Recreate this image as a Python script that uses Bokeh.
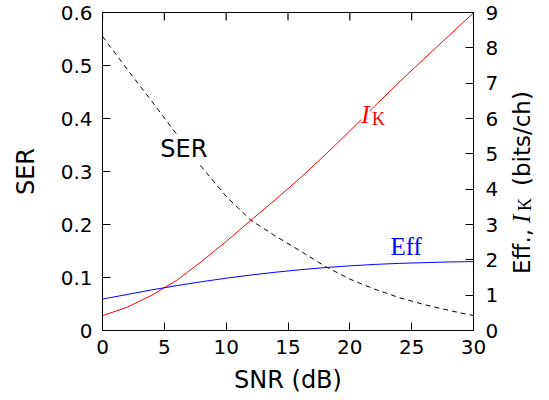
import math
from bokeh.plotting import figure
from bokeh.layouts import row
from bokeh.models import Range1d, LinearAxis, FixedTicker, Label, CustomJSTickFormatter
from bokeh.embed import file_html
from bokeh.resources import INLINE

# ---- data ----
snr = [0, 2, 4, 6, 8, 10, 12, 14, 16, 18, 20, 22, 24, 26, 28, 30]
ser = [0.555, 0.493, 0.432, 0.370, 0.309, 0.253, 0.208, 0.178, 0.150, 0.121,
       0.097, 0.078, 0.062, 0.049, 0.038, 0.028]
ik = [0.42, 0.66, 1.00, 1.42, 1.95, 2.52, 3.12, 3.71, 4.32, 4.97, 5.65, 6.35,
      7.03, 7.69, 8.34, 8.99]
eff = [0.89, 1.02, 1.15, 1.27, 1.38, 1.48, 1.57, 1.65, 1.72, 1.78, 1.83, 1.87,
       1.90, 1.92, 1.94, 1.95]

x_ticks = [0, 5, 10, 15, 20, 25, 30]
ser_ticks = [0, 0.1, 0.2, 0.3, 0.4, 0.5, 0.6]
right_ticks = [0, 1, 2, 3, 4, 5, 6, 7, 8, 9]

SANS = "DejaVu Sans"
SERIF = "Liberation Serif"

right_range = Range1d(0, 9)

p = figure(width=505, height=400,
           x_range=Range1d(0, 30), y_range=Range1d(0, 0.6),
           output_backend="svg", toolbar_location=None,
           min_border_left=102, min_border_right=32,
           min_border_top=12, min_border_bottom=70,
           x_axis_label="SNR (dB)", y_axis_label="SER")
p.extra_y_ranges = {"right": right_range}
p.grid.visible = False
p.outline_line_color = "black"
p.outline_line_width = 1
p.background_fill_color = "white"
p.border_fill_color = "white"

p.line(snr, ser, line_color="black", line_width=1, line_dash="5 4")
p.line(snr, ik, line_color="#ff0000", line_width=1, y_range_name="right")
p.line(snr, eff, line_color="#0000ff", line_width=1, y_range_name="right")

# inward ticks on the top edge of the frame
p.ray(x=x_ticks, y=[ser_ticks[-1]] * len(x_ticks), length=8,
      length_units="screen", angle=-math.pi / 2,
      line_color="black", line_width=1.2)

right_axis = LinearAxis(y_range_name="right")
p.add_layout(right_axis, "right")
bottom_axis = p.below[0]
left_axis = p.left[0]


def style(ax, ticks, standoff):
    ax.ticker = FixedTicker(ticks=ticks)
    ax.major_tick_in = 8
    ax.major_tick_out = 0
    ax.minor_tick_line_color = None
    ax.major_tick_line_color = "black"
    ax.axis_line_color = "black"
    ax.major_label_text_font = SANS
    ax.major_label_text_font_size = "20px"
    ax.major_label_text_color = "black"
    ax.major_label_standoff = standoff
    ax.axis_label_text_font = SANS
    ax.axis_label_text_font_size = "24px"
    ax.axis_label_text_font_style = "normal"
    ax.axis_label_text_color = "black"


style(bottom_axis, x_ticks, 9)
style(left_axis, ser_ticks, 10)
style(right_axis, right_ticks, 12)
left_axis.formatter = CustomJSTickFormatter(
    code="return tick == 0 ? '0' : tick.toFixed(1);")
bottom_axis.axis_label_standoff = 9
left_axis.axis_label_standoff = 18

# in-plot labels
p.add_layout(Label(x=4.67, y=0.342, text="SER", text_font=SANS,
                   text_font_size="24px", text_color="black",
                   text_baseline="alphabetic", text_align="left",
                   background_fill_color="white"))
p.add_layout(Label(x=20.93, y=6.11, y_range_name="right", text="I",
                   text_font=SERIF, text_font_style="italic",
                   text_font_size="25px", text_color="#ff0000",
                   text_baseline="alphabetic", text_align="left",
                   background_fill_color="white"))
p.add_layout(Label(x=21.8, y=6.0, y_range_name="right", text="K",
                   text_font=SERIF, text_font_size="18px",
                   text_color="#ff0000",
                   text_baseline="alphabetic", text_align="left",
                   background_fill_color="white"))
p.add_layout(Label(x=23.28, y=2.38, y_range_name="right", text="Eff",
                   text_font=SERIF, text_font_size="25px",
                   text_color="#0000ff",
                   text_baseline="alphabetic", text_align="left"))

# right axis title, in a narrow strip to the right; its vertical range is
# the right axis range, so its frame lines up with the main plot's frame
p2 = figure(width=44, height=400, x_range=Range1d(0, 44),
            y_range=right_range, output_backend="svg",
            toolbar_location=None, x_axis_location=None,
            y_axis_location=None, min_border=0)
p2.outline_line_color = None
p2.background_fill_color = "white"
p2.border_fill_color = "white"
p2.xgrid.visible = False
p2.ygrid.visible = False

bx = 16
pieces = [
    ("Eff.,", SANS, "normal", "23px", bx, 1.60),
    ("I", SERIF, "italic", "25px", bx, 3.04),
    ("K", SERIF, "normal", "18px", bx + 3.7, 3.38),
    ("(bits/ch)", SANS, "normal", "23px", bx, 4.09),
]
for t, f, st, sz, xx, yy in pieces:
    p2.add_layout(Label(x=xx, y=yy, text=t, text_font=f,
                        text_font_style=st, text_font_size=sz,
                        text_color="black", angle=math.pi / 2,
                        text_baseline="alphabetic", text_align="left"))

layout = row(p, p2, spacing=0)
open("out.html", "w").write(file_html(layout, INLINE))
